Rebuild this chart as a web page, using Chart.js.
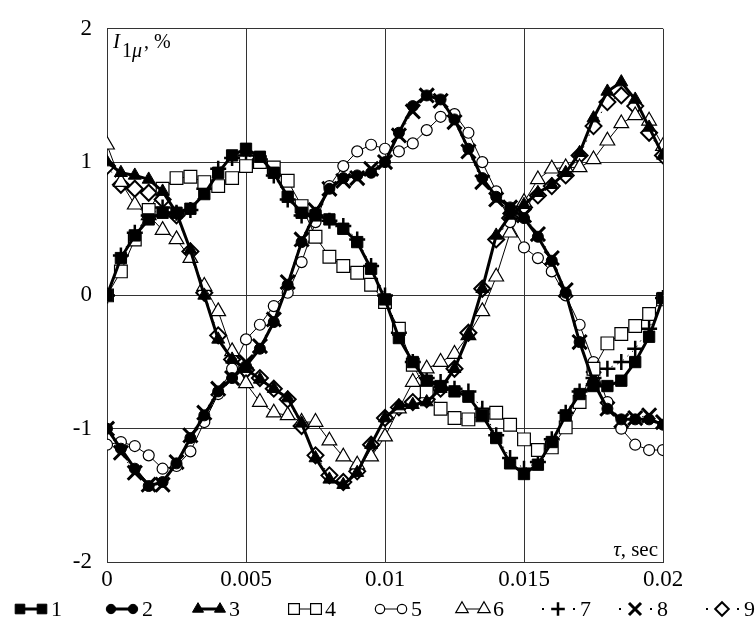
<!DOCTYPE html>
<html>
<head>
<meta charset="utf-8">
<script src="https://cdn.jsdelivr.net/npm/chart.js@4/dist/chart.umd.min.js"></script>
<style>
  body { margin: 0; background: #fff; }
  #wrap { width: 756px; height: 631px; }
</style>
</head>
<body>
<div id="wrap"><canvas id="chart" width="756" height="631"></canvas></div>
<script>
// time, sec
const timeSec = [0, 0.0005, 0.001, 0.0015, 0.002, 0.0025, 0.003, 0.0035, 0.004, 0.0045,
  0.005, 0.0055, 0.006, 0.0065, 0.007, 0.0075, 0.008, 0.0085, 0.009, 0.0095,
  0.01, 0.0105, 0.011, 0.0115, 0.012, 0.0125, 0.013, 0.0135, 0.014, 0.0145,
  0.015, 0.0155, 0.016, 0.0165, 0.017, 0.0175, 0.018, 0.0185, 0.019, 0.0195, 0.02];

// I1mu, %
const s1 = [0.0, 0.28, 0.45, 0.57, 0.62, 0.62, 0.65, 0.76, 0.92, 1.05, 1.1, 1.04, 0.92, 0.74, 0.62, 0.6, 0.57, 0.5, 0.4, 0.2, -0.03,
  -0.32, -0.5, -0.64, -0.68, -0.72, -0.76, -0.9, -1.07, -1.26, -1.34, -1.27, -1.1, -0.9, -0.74, -0.68, -0.68, -0.64, -0.5, -0.31, -0.02];
const s2 = [-1.0, -1.15, -1.3, -1.43, -1.4, -1.26, -1.07, -0.9, -0.72, -0.62, -0.53, -0.4, -0.2, 0.08, 0.4, 0.62, 0.8, 0.88, 0.9, 0.92, 1.0,
  1.22, 1.42, 1.5, 1.47, 1.32, 1.1, 0.88, 0.74, 0.66, 0.58, 0.44, 0.26, 0.02, -0.35, -0.65, -0.85, -0.93, -0.93, -0.93, -0.97];
const s3 = [1.0, 0.92, 0.9, 0.87, 0.78, 0.62, 0.34, 0.0, -0.33, -0.48, -0.55, -0.63, -0.7, -0.77, -0.96, -1.22, -1.38, -1.42, -1.33, -1.12, -0.92,
  -0.83, -0.82, -0.8, -0.7, -0.55, -0.3, 0.05, 0.45, 0.6, 0.68, 0.77, 0.83, 0.92, 1.07, 1.33, 1.53, 1.6, 1.47, 1.26, 1.05];
const s4 = [0.0, 0.18, 0.42, 0.64, 0.8, 0.88, 0.89, 0.85, 0.82, 0.88, 0.97, 1.0, 0.96, 0.86, 0.67, 0.44, 0.29, 0.22, 0.17, 0.08, -0.05,
  -0.25, -0.52, -0.72, -0.85, -0.92, -0.93, -0.9, -0.88, -0.97, -1.08, -1.16, -1.14, -0.99, -0.8, -0.55, -0.36, -0.29, -0.23, -0.14, -0.03];
const s5 = [-1.12, -1.1, -1.13, -1.2, -1.3, -1.28, -1.17, -0.95, -0.74, -0.55, -0.33, -0.22, -0.08, 0.02, 0.25, 0.55, 0.82, 0.97, 1.08, 1.13, 1.1,
  1.08, 1.14, 1.24, 1.34, 1.36, 1.22, 1.0, 0.78, 0.55, 0.36, 0.28, 0.18, 0.0, -0.22, -0.5, -0.8, -1.0, -1.12, -1.16, -1.16];
const s6 = [1.13, 0.85, 0.68, 0.6, 0.49, 0.42, 0.28, 0.07, -0.12, -0.42, -0.66, -0.8, -0.88, -0.9, -0.95, -0.95, -1.09, -1.21, -1.27, -1.21, -1.06,
  -0.85, -0.65, -0.55, -0.5, -0.44, -0.3, -0.12, 0.14, 0.47, 0.7, 0.87, 0.95, 0.96, 0.96, 1.02, 1.16, 1.29, 1.35, 1.31, 1.12];
const s7 = [0.0, 0.3, 0.47, 0.6, 0.66, 0.62, 0.64, 0.8, 0.95, 1.03, 1.05, 1.02, 0.9, 0.72, 0.6, 0.6, 0.56, 0.52, 0.42, 0.22, 0.0,
  -0.28, -0.5, -0.62, -0.65, -0.7, -0.72, -0.85, -1.05, -1.22, -1.3, -1.25, -1.08, -0.88, -0.72, -0.62, -0.55, -0.5, -0.4, -0.25, -0.02];
const s8 = [-1.0, -1.18, -1.33, -1.42, -1.42, -1.25, -1.05, -0.88, -0.7, -0.62, -0.5, -0.38, -0.18, 0.1, 0.42, 0.64, 0.8, 0.86, 0.88, 0.95, 1.0,
  1.2, 1.38, 1.5, 1.46, 1.3, 1.08, 0.85, 0.72, 0.66, 0.6, 0.46, 0.28, 0.04, -0.35, -0.62, -0.85, -0.94, -0.92, -0.9, -0.95];
const s9 = [0.97, 0.83, 0.8, 0.77, 0.72, 0.6, 0.33, 0.02, -0.3, -0.48, -0.56, -0.62, -0.7, -0.78, -0.98, -1.2, -1.35, -1.4, -1.32, -1.12, -0.92,
  -0.84, -0.8, -0.78, -0.7, -0.55, -0.28, 0.05, 0.42, 0.58, 0.66, 0.75, 0.82, 0.9, 1.05, 1.27, 1.45, 1.5, 1.42, 1.22, 1.05];

const seriesNames = ['1', '2', '3', '4', '5', '6', '7', '8', '9'];
const xTicks = [0, 0.005, 0.01, 0.015, 0.02];
const yTicks = [-2, -1, 0, 1, 2];

const serif = '"Liberation Serif", "Times New Roman", serif';

function pts(values) {
    return values.map((v, i) => ({ x: timeSec[i], y: v }));
}

// marker / line look of each curve
const looks = [
    { pointStyle: 'rect', pointRadius: 8, fill: '#000', pw: 1, lw: 3, dash: [] },
    { pointStyle: 'circle', pointRadius: 5.5, fill: '#000', pw: 1, lw: 3, dash: [] },
    { pointStyle: 'triangle', pointRadius: 7.5, fill: '#000', pw: 1, lw: 3, dash: [] },
    { pointStyle: 'rect', pointRadius: 9, fill: '#fff', pw: 1.2, lw: 1, dash: [] },
    { pointStyle: 'circle', pointRadius: 5.5, fill: '#fff', pw: 1.2, lw: 1, dash: [] },
    { pointStyle: 'triangle', pointRadius: 8.5, fill: '#fff', pw: 1.2, lw: 1, dash: [] },
    { pointStyle: 'cross', pointRadius: 8, fill: '#000', pw: 2.5, lw: 1, dash: [1.5, 5] },
    { pointStyle: 'crossRot', pointRadius: 10, fill: '#000', pw: 3, lw: 1, dash: [1.5, 5] },
    { pointStyle: 'rectRot', pointRadius: 8, fill: '#fff', pw: 2, lw: 1, dash: [1.5, 5] }
];

const allSeries = [s1, s2, s3, s4, s5, s6, s7, s8, s9];

const datasets = allSeries.map((vals, i) => ({
    label: seriesNames[i],
    data: pts(vals),
    borderColor: '#000',
    borderWidth: looks[i].lw,
    borderDash: looks[i].dash,
    pointStyle: looks[i].pointStyle,
    pointRadius: looks[i].pointRadius,
    pointBackgroundColor: looks[i].fill,
    pointBorderColor: '#000',
    pointBorderWidth: looks[i].pw,
    tension: 0,
    fill: false
}));

const legendX = [14, 105, 192, 288, 374, 456, 540, 617, 704];

const overlay = {
    id: 'overlay',
    afterDraw(chart) {
        const ctx = chart.ctx;
        const area = chart.chartArea;
        ctx.save();
        ctx.fillStyle = '#000';
        ctx.textBaseline = 'alphabetic';
        ctx.textAlign = 'left';

        // y title: I_1mu, %
        ctx.font = 'italic 21px ' + serif;
        ctx.fillText('I', area.left + 6, area.top + 19);
        ctx.font = '20px ' + serif;
        ctx.fillText('1', area.left + 15, area.top + 28);
        ctx.font = 'italic 20px ' + serif;
        ctx.fillText('\u03BC', area.left + 25, area.top + 28);
        ctx.font = '20px ' + serif;
        ctx.fillText(', %', area.left + 37, area.top + 19);

        // x title: tau, sec
        ctx.textAlign = 'right';
        ctx.font = '21px ' + serif;
        ctx.fillText(', sec', area.right - 5, area.bottom - 6);
        const w = ctx.measureText(', sec').width;
        ctx.font = 'italic 21px ' + serif;
        ctx.fillText('\u03C4', area.right - 5 - w, area.bottom - 6);

        // legend
        const ly = 609;
        chart.data.datasets.forEach((ds, i) => {
            const x0 = legendX[i];
            const dotted = ds.borderDash && ds.borderDash.length > 0;
            const opts = { pointStyle: ds.pointStyle, radius: ds.pointRadius * 0.85, borderWidth: ds.pointBorderWidth, rotation: 0 };
            ctx.strokeStyle = '#000';
            if (dotted) {
                ctx.fillRect(x0 + 2, ly - 1, 2, 2);
                ctx.fillRect(x0 + 33, ly - 1, 2, 2);
                ctx.fillStyle = ds.pointBackgroundColor;
                ctx.lineWidth = ds.pointBorderWidth;
                Chart.helpers.drawPoint(ctx, opts, x0 + 18, ly);
            } else {
                ctx.lineWidth = ds.borderWidth;
                ctx.beginPath();
                ctx.moveTo(x0 + 6, ly);
                ctx.lineTo(x0 + 28, ly);
                ctx.stroke();
                ctx.fillStyle = ds.pointBackgroundColor;
                ctx.lineWidth = ds.pointBorderWidth;
                Chart.helpers.drawPoint(ctx, opts, x0 + 6, ly);
                Chart.helpers.drawPoint(ctx, opts, x0 + 28, ly);
            }
            ctx.fillStyle = '#000';
            ctx.textAlign = 'left';
            ctx.textBaseline = 'middle';
            ctx.font = '22px ' + serif;
            ctx.fillText(ds.label, x0 + (dotted ? 40 : 37), ly + 1);
        });
        ctx.restore();
    }
};

new Chart(document.getElementById('chart'), {
    type: 'line',
    data: { datasets: datasets },
    options: {
        responsive: false,
        animation: false,
        events: [],
        layout: { padding: { left: 0, right: 93, top: 13, bottom: 0 } },
        plugins: {
            legend: { display: false },
            tooltip: { enabled: false },
            title: { display: false }
        },
        scales: {
            x: {
                type: 'linear',
                min: 0,
                max: 0.02,
                afterBuildTicks: scale => { scale.ticks = xTicks.map(v => ({ value: v })); },
                afterFit: scale => { scale.height = 69; },
                grid: { color: '#333', lineWidth: 1, drawTicks: false },
                border: { display: true, color: '#333', width: 1 },
                ticks: {
                    color: '#000',
                    padding: 4,
                    maxRotation: 0,
                    font: { family: serif, size: 23 },
                    callback: v => String(+v.toFixed(3))
                }
            },
            y: {
                type: 'linear',
                min: -2,
                max: 2,
                afterBuildTicks: scale => { scale.ticks = yTicks.map(v => ({ value: v })); },
                afterFit: scale => { scale.width = 107; },
                grid: { color: '#333', lineWidth: 1, drawTicks: false },
                border: { display: true, color: '#333', width: 1 },
                ticks: {
                    color: '#000',
                    padding: 15,
                    font: { family: serif, size: 23 },
                    callback: v => String(v)
                }
            }
        }
    },
    plugins: [overlay]
});
</script>
</body>
</html>
